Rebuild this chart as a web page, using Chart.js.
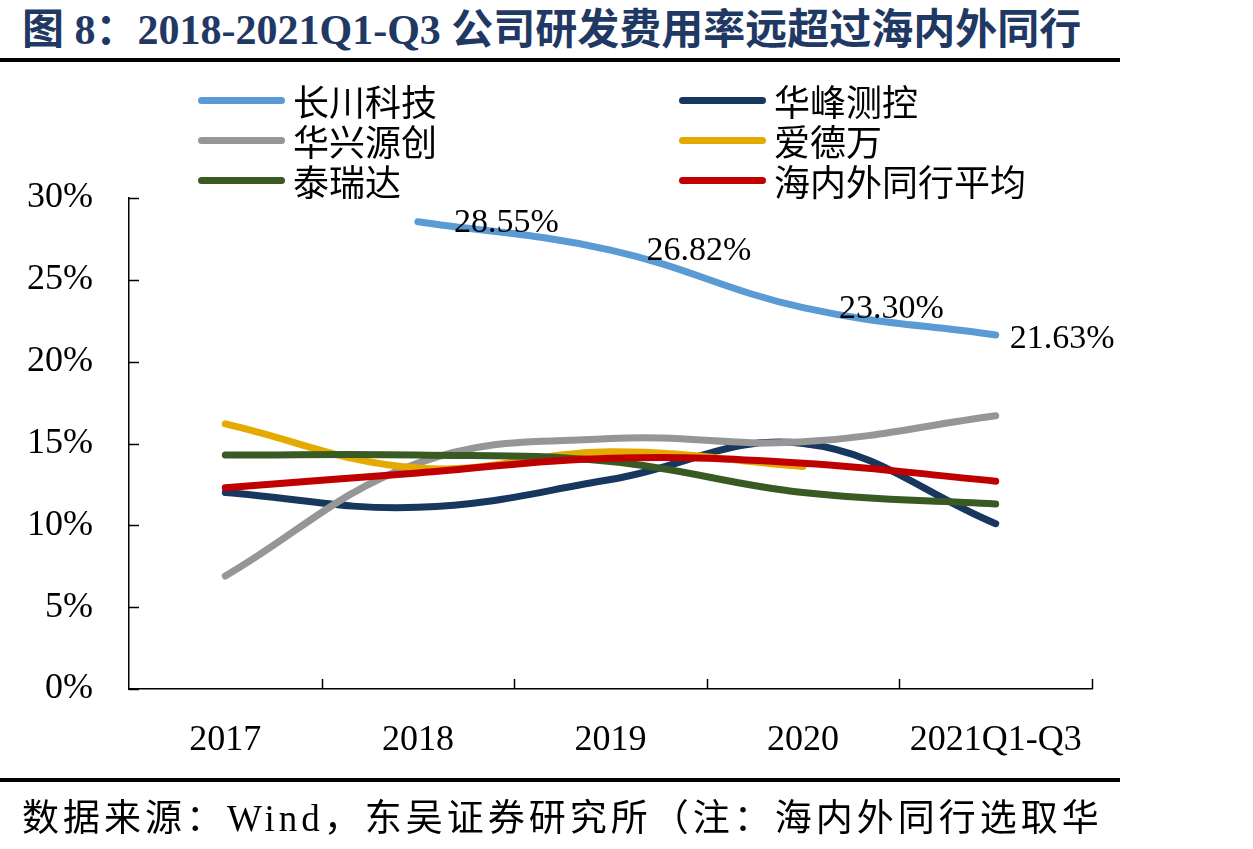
<!DOCTYPE html>
<html>
<head>
<meta charset="utf-8">
<script src="https://cdn.jsdelivr.net/npm/chart.js@4"></script>
<style>
  body { margin: 0; background: #fff; width: 1253px; height: 849px; position: relative; overflow: hidden;
         font-family: "Liberation Serif", "Noto Sans CJK SC", serif; }
  #title { position: absolute; left: 22px; top: -5px; font-size: 42px; font-weight: bold; color: #1F3864; white-space: nowrap; }
  .rule { position: absolute; left: 0; width: 1120px; height: 4px; background: #000; }
  #note { position: absolute; left: 22px; top: 788px; font-size: 37px; letter-spacing: 4px; white-space: nowrap; }
  #wrap { position: absolute; left: 0; top: 0; }
  .lg { position: absolute; height: 40px; display: flex; align-items: center; font-size: 36px; white-space: nowrap; }
  .lg i { display: inline-block; width: 87px; height: 7px; border-radius: 4px; margin-right: 8px; }
</style>
</head>
<body>
<div id="title">图 8：2018-2021Q1-Q3 公司研发费用率远超过海内外同行</div>
<div class="rule" style="top:58px"></div>
<div id="wrap"><canvas id="mychart" width="1253" height="849"></canvas></div>
<div id="legend"></div>
<div class="rule" style="top:778px"></div>
<div id="note">数据来源：Wind，东吴证券研究所（注：海内外同行选取华</div>
<script>
var categories = ['2017', '2018', '2019', '2020', '2021Q1-Q3'];
var names = ['长川科技', '华峰测控', '华兴源创', '爱德万', '泰瑞达', '海内外同行平均'];
var changchuan = [null, 28.55, 26.82, 23.30, 21.63];
var huafeng = [12.0, 11.1, 12.8, 15.0, 10.1];
var huaxing = [6.9, 13.8, 15.3, 15.1, 16.7];
var advantest = [16.2, 13.5, 14.5, 13.6, null];
var teradyne = [14.3, 14.3, 13.9, 12.0, 11.3];
var average = [12.3, 13.2, 14.1, 13.8, 12.7];
var yTicks = [0, 5, 10, 15, 20, 25, 30];

var colors = ['#5B9BD5', '#17375E', '#969696', '#E5AA00', '#3A5A24', '#C00000'];
var series = [changchuan, huafeng, huaxing, advantest, teradyne, average];

// legend, two columns
var lg = document.getElementById('legend');
for (var i = 0; i < names.length; i++) {
  var d = document.createElement('div');
  d.className = 'lg';
  d.style.left = (i % 2 == 0 ? 198 : 679) + 'px';
  d.style.top = (80 + Math.floor(i / 2) * 40) + 'px';
  d.innerHTML = '<i style="background:' + colors[i] + '"></i>' + names[i];
  lg.appendChild(d);
}

var datasets = [];
for (var i = 0; i < series.length; i++) {
  datasets.push({
    label: names[i],
    data: series[i],
    borderColor: colors[i],
    backgroundColor: colors[i],
    borderWidth: 7,
    borderCapStyle: 'round',
    borderJoinStyle: 'round',
    pointRadius: 0,
    tension: 0.4,
    order: series.length - i   // later series on top, like the original
  });
}

var serif = "'Liberation Serif', 'Times New Roman', serif";

var extras = {
  id: 'extras',
  afterDraw: function(chart) {
    var ctx = chart.ctx;
    var x = chart.scales.x, y = chart.scales.y;
    ctx.save();
    // inward tick marks
    ctx.strokeStyle = '#000';
    ctx.lineWidth = 1.5;
    ctx.beginPath();
    yTicks.forEach(function(v) {
      var py = Math.round(y.getPixelForValue(v)) + 0.5;
      ctx.moveTo(x.left, py); ctx.lineTo(x.left + 10, py);
    });
    var half = (x.getPixelForValue(1) - x.getPixelForValue(0)) / 2;
    for (var k = 0; k < categories.length; k++) {
      var px = Math.round(x.getPixelForValue(k) + half) + 0.5;
      ctx.moveTo(px, y.bottom); ctx.lineTo(px, y.bottom - 10);
    }
    ctx.stroke();
    // value labels on 长川科技
    var meta = chart.getDatasetMeta(0);
    ctx.fillStyle = '#000';
    ctx.font = '34px ' + serif;
    ctx.textBaseline = 'middle';
    ctx.textAlign = 'left';
    for (var k = 0; k < changchuan.length; k++) {
      if (changchuan[k] == null) continue;
      var pt = meta.data[k];
      var off = k == changchuan.length - 1 ? 14 : 36;
      ctx.fillText(changchuan[k].toFixed(2) + '%', pt.x + off, pt.y + (k == changchuan.length - 1 ? 4 : 1));
    }
    ctx.restore();
  }
};

var ctx = document.getElementById('mychart');
var myChart = new Chart(ctx, {
  type: 'line',
  data: { labels: categories, datasets: datasets },
  options: {
    responsive: false,
    animation: false,
    layout: { padding: { top: 198, right: 161, left: 0, bottom: 0 } },
    plugins: { legend: { display: false }, tooltip: { enabled: false } },
    scales: {
      x: {
        offset: true,
        grid: { display: false },
        border: { color: '#000', width: 1.5 },
        ticks: { color: '#000', padding: 22, maxRotation: 0, font: { family: serif, size: 36 } },
        afterFit: function(s) { s.height = 160; }
      },
      y: {
        min: 0, max: 30,
        grid: { display: false },
        border: { color: '#000', width: 1.5 },
        ticks: { stepSize: 5, color: '#000', padding: 28, font: { family: serif, size: 36 },
                 callback: function(v) { return v + '%'; } },
        afterFit: function(s) { s.width = 129; }
      }
    }
  },
  plugins: [extras]
});
</script>
</body>
</html>
